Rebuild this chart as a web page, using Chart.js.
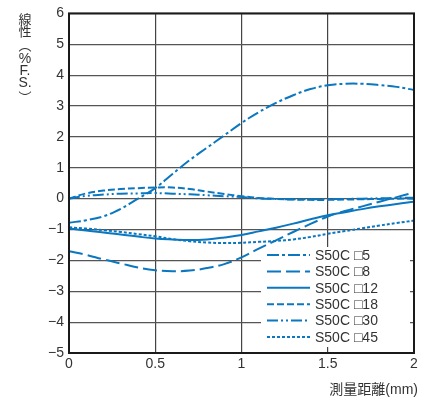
<!DOCTYPE html>
<html>
<head>
<meta charset="utf-8">
<script src="https://cdn.jsdelivr.net/npm/chart.js@4/dist/chart.umd.min.js"></script>
<style>
  body { margin: 0; background: #fff; }
  canvas { display: block; }
</style>
</head>
<body>
<canvas id="myChart" width="434" height="403"></canvas>
<script>
// measuring distance (mm)
const distance = [0, 0.1, 0.2, 0.3, 0.4, 0.5, 0.6, 0.7, 0.8, 0.9, 1.0,
  1.1, 1.2, 1.3, 1.4, 1.5, 1.6, 1.7, 1.8, 1.9, 2.0];

// linearity (%F.S.) per target size
const s5 = [-0.78, -0.7, -0.57, -0.33, 0.0, 0.34, 0.8, 1.25, 1.65, 2.05, 2.45,
  2.8, 3.1, 3.35, 3.55, 3.67, 3.72, 3.72, 3.68, 3.62, 3.52];
const s8 = [-1.7, -1.82, -1.97, -2.1, -2.23, -2.32, -2.35, -2.33, -2.25, -2.12, -1.9,
  -1.62, -1.35, -1.08, -0.82, -0.58, -0.4, -0.25, -0.1, 0.05, 0.2];
const s12 = [-0.97, -1.03, -1.1, -1.16, -1.23, -1.29, -1.32, -1.34, -1.32, -1.26, -1.18,
  -1.06, -0.94, -0.81, -0.67, -0.54, -0.44, -0.34, -0.25, -0.17, -0.1];
const s18 = [0, 0.17, 0.26, 0.31, 0.34, 0.36, 0.36, 0.31, 0.23, 0.15, 0.08,
  0.02, -0.01, -0.03, -0.04, -0.04, -0.03, -0.02, -0.01, 0.0, 0.0];
const s30 = [0, 0.09, 0.13, 0.16, 0.17, 0.18, 0.16, 0.14, 0.11, 0.08, 0.05,
  0.01, -0.01, -0.02, -0.02, -0.02, -0.01, 0.0, 0.01, 0.02, 0.03];
const s45 = [-0.93, -0.97, -1.02, -1.08, -1.15, -1.22, -1.31, -1.38, -1.42, -1.44, -1.43,
  -1.4, -1.37, -1.32, -1.24, -1.14, -1.05, -0.96, -0.87, -0.79, -0.71];

const seriesLabels = ["S50C \u25A15", "S50C \u25A18", "S50C \u25A112",
  "S50C \u25A118", "S50C \u25A130", "S50C \u25A145"];
const xTicks = [0, 0.5, 1, 1.5, 2];
const yTicks = [-5, -4, -3, -2, -1, 0, 1, 2, 3, 4, 5, 6];

const blue = "#0a77c0";
const dashes = [[12, 3, 3, 3], [14, 5], [], [7, 3], [11, 3, 2, 3, 2, 3], [3, 2]];
const values = [s5, s8, s12, s18, s30, s45];

const datasets = values.map((v, i) => ({
  label: seriesLabels[i],
  data: distance.map((x, j) => ({ x: x, y: v[j] })),
  borderColor: blue,
  borderWidth: 2,
  borderDash: dashes[i],
  pointRadius: 0,
  tension: 0.4,
  fill: false,
}));

const labelFont = "14px 'Liberation Sans', Arial, 'DejaVu Sans', sans-serif";

// white legend panel, drawn under the curves so only the grid is hidden
const legendBox = {
  id: "legendBox",
  beforeDatasetsDraw(chart) {
    const ctx = chart.ctx;
    ctx.save();
    ctx.fillStyle = "#fff";
    ctx.fillRect(261, 247, 149, 100);
    ctx.restore();
  },
  afterDatasetsDraw(chart) {
    const ctx = chart.ctx;
    const a = chart.chartArea;
    ctx.save();
    // frame
    ctx.strokeStyle = "#1a1a1a";
    ctx.lineWidth = 2;
    ctx.setLineDash([]);
    ctx.strokeRect(a.left, a.top, a.right - a.left, a.bottom - a.top);

    // legend rows
    chart.data.datasets.forEach((ds, i) => {
      const y = 255 + i * 16.4;
      ctx.strokeStyle = ds.borderColor;
      ctx.lineWidth = 2;
      ctx.setLineDash(ds.borderDash);
      ctx.beginPath();
      ctx.moveTo(267, y);
      ctx.lineTo(310, y);
      ctx.stroke();
      ctx.setLineDash([]);
      ctx.fillStyle = "#333";
      ctx.font = labelFont;
      ctx.textBaseline = "middle";
      ctx.textAlign = "left";
      ctx.fillText(ds.label, 315, y + 1);
    });

    // y axis title, stacked vertically
    const cjk = "13px 'Noto Sans CJK JP', sans-serif";
    const col = [
      ["\u7DDA", 19, cjk], ["\u6027", 31, cjk], ["\uFE35", 45, cjk],
      ["%", 59, labelFont], ["F.", 71, labelFont], ["S.", 83, labelFont],
      ["\uFE36", 97, cjk],
    ];
    ctx.fillStyle = "#333";
    ctx.textAlign = "center";
    ctx.textBaseline = "middle";
    col.forEach(([t, y, f]) => {
      ctx.font = f;
      ctx.fillText(t, 25, y);
    });

    // x axis title
    ctx.font = "14px 'Liberation Sans', 'Noto Sans CJK JP', sans-serif";
    ctx.textAlign = "right";
    ctx.fillText("\u6E2C\u91CF\u8DDD\u96E2(mm)", 418, 390);
    ctx.restore();
  },
};

const config = {
  type: "line",
  data: { datasets: datasets },
  options: {
    responsive: false,
    animation: false,
    layout: { padding: { left: 0, top: 9, right: 20, bottom: 0 } },
    plugins: { legend: { display: false }, tooltip: { enabled: false } },
    scales: {
      x: {
        type: "linear",
        min: 0,
        max: 2,
        afterBuildTicks: (s) => { s.ticks = xTicks.map((v) => ({ value: v })); },
        afterFit: (s) => { s.height = 50; },
        grid: { color: "#444", lineWidth: 1.2, drawTicks: false },
        border: { display: false },
        ticks: {
          color: "#333",
          font: { family: "'Liberation Sans', Arial, sans-serif", size: 14 },
          padding: 3,
          maxRotation: 0,
          callback: (v) => String(v),
        },
      },
      y: {
        min: -5,
        max: 6,
        afterBuildTicks: (s) => { s.ticks = yTicks.map((v) => ({ value: v })); },
        afterFit: (s) => { s.width = 69; },
        grid: { color: "#555", lineWidth: 1.2, drawTicks: false },
        border: { display: false },
        ticks: {
          color: "#333",
          font: { family: "'Liberation Sans', Arial, sans-serif", size: 14 },
          padding: 5,
          callback: (v) => (v < 0 ? "\u2212" + Math.abs(v) : String(v)),
        },
      },
    },
  },
  plugins: [legendBox],
};

new Chart(document.getElementById("myChart"), config);
</script>
</body>
</html>
